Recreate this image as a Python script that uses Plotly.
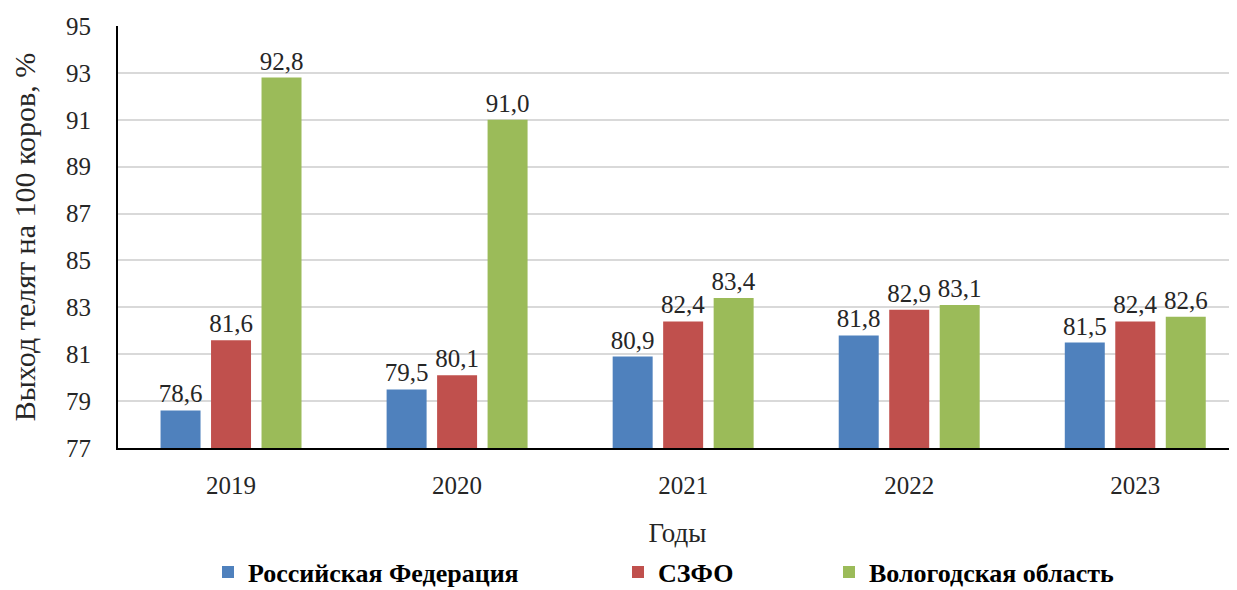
import plotly.graph_objects as go

years = ["2019", "2020", "2021", "2022", "2023"]
series_names = ["Российская Федерация", "СЗФО", "Вологодская область"]
rf = [78.6, 79.5, 80.9, 81.8, 81.5]
szfo = [81.6, 80.1, 82.4, 82.9, 82.4]
vologda = [92.8, 91.0, 83.4, 83.1, 82.6]
y_ticks = [77, 79, 81, 83, 85, 87, 89, 91, 93, 95]

colors = ["#4F81BD", "#C0504D", "#9BBB59"]
font_family = "Times New Roman, Liberation Serif, Tinos, DejaVu Serif, serif"
W, H = 1229, 582

fig = go.Figure()
legends = ["legend", "legend2", "legend3"]
for name, vals, col, lg in zip(series_names, [rf, szfo, vologda], colors, legends):
    fig.add_trace(go.Bar(
        x=years, y=vals, name=name, marker_color=col, marker_line_width=0,
        texttemplate="%{y:.1f}", textposition="outside",
        textfont=dict(family=font_family, size=25, color="#262626"),
        constraintext="none", cliponaxis=False, legend=lg, showlegend=True,
    ))

leg_common = dict(orientation="h", yanchor="middle", yref="container", y=1 - 564 / H,
                  xref="container", xanchor="left",
                  font=dict(family=font_family, size=26, color="#000000", weight="bold"),
                  bgcolor="rgba(0,0,0,0)", itemwidth=30, tracegroupgap=0, visible=True)
fig.update_layout(
    width=W, height=H,
    margin=dict(l=110, r=0, t=18, b=142, autoexpand=False),
    plot_bgcolor="white", paper_bgcolor="white",
    separators=", ",
    barmode="group", bargap=0.33, bargroupgap=0.208,
    showlegend=True,
    font=dict(family=font_family, size=24, color="#262626"),
    legend=dict(**leg_common, x=200 / W),
    legend2=dict(**leg_common, x=610 / W),
    legend3=dict(**leg_common, x=821 / W),
    xaxis=dict(
        title=dict(text="Годы", font=dict(size=27, family=font_family), standoff=26),
        range=[-0.5, 4.45],
        showline=True, linecolor="black", linewidth=2,
        tickfont=dict(size=25, family=font_family),
        ticks="", ticklabelstandoff=14,
    ),
    yaxis=dict(
        title=dict(text="Выход телят на 100 коров, %", font=dict(size=30, family=font_family), standoff=27),
        range=[77, 95], tickvals=y_ticks,
        showline=True, linecolor="black", linewidth=2,
        showgrid=True, gridcolor="#D9D9D9", gridwidth=1.5,
        tickfont=dict(size=25, family=font_family),
        ticks="", ticklabelstandoff=20, zeroline=False,
    ),
)

fig.write_html("out.html")
